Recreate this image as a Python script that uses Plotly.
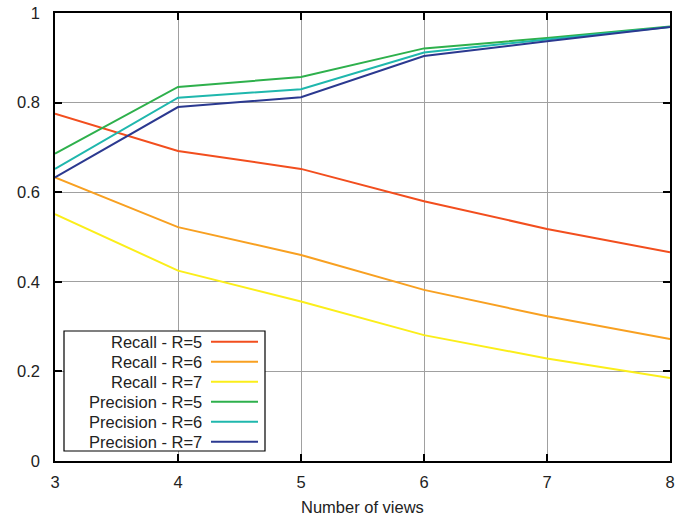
import plotly.graph_objects as go

views = [3, 4, 5, 6, 7, 8]
recall_r5 = [0.775, 0.692, 0.652, 0.580, 0.518, 0.466]
recall_r6 = [0.633, 0.522, 0.460, 0.382, 0.323, 0.272]
recall_r7 = [0.551, 0.425, 0.356, 0.281, 0.229, 0.185]
precision_r5 = [0.686, 0.835, 0.857, 0.921, 0.944, 0.970]
precision_r6 = [0.652, 0.811, 0.830, 0.912, 0.941, 0.969]
precision_r7 = [0.633, 0.790, 0.812, 0.904, 0.937, 0.969]

names = ["Recall - R=5", "Recall - R=6", "Recall - R=7",
         "Precision - R=5", "Precision - R=6", "Precision - R=7"]
series = [recall_r5, recall_r6, recall_r7, precision_r5, precision_r6, precision_r7]
colors = ["#f24e1e", "#f8a021", "#fbee1a", "#2eb04c", "#1fb7ad", "#2b3990"]

W, H = 686, 517
L, R, T, B = 55, 16, 13, 56
pw, ph = W - L - R, H - T - B

fig = go.Figure()
for n, s, c in zip(names, series, colors):
    fig.add_trace(go.Scatter(x=views, y=s, mode="lines", name=n,
                             line=dict(color=c, width=2), showlegend=False))

def px2x(px):
    return (px - L) / pw

def py2y(py):
    return (H - B - py) / ph

FONT = "Liberation Sans, Arial, sans-serif"
TXT = "#222222"

shapes = [dict(type="rect", xref="paper", yref="paper",
               x0=px2x(64), x1=px2x(265), y0=py2y(451), y1=py2y(331),
               line=dict(color="black", width=1.2), fillcolor="white", layer="above")]
annotations = []
for i, (n, c) in enumerate(zip(names, colors)):
    py = 341.7 + 20 * i
    shapes.append(dict(type="line", xref="paper", yref="paper",
                       x0=px2x(211), x1=px2x(258), y0=py2y(py), y1=py2y(py),
                       line=dict(color=c, width=2), layer="above"))
    annotations.append(dict(xref="paper", yref="paper", x=px2x(204), y=py2y(py),
                            text=n, showarrow=False, xanchor="right", yanchor="middle",
                            xshift=0, font=dict(family=FONT, size=16.5, color=TXT)))

annotations.append(dict(xref="paper", yref="paper", x=0.5, y=py2y(507),
                        text="Number of views", showarrow=False,
                        xanchor="center", yanchor="middle",
                        font=dict(family=FONT, size=16.5, color=TXT)))

axis_common = dict(showline=True, linecolor="black", linewidth=1.5, mirror="ticks",
                   ticks="inside", ticklen=7, tickcolor="black", tickwidth=1.5,
                   showgrid=True, gridcolor="#a0a0a0", gridwidth=1, zeroline=False,
                   automargin=False,
                   tickfont=dict(family=FONT, size=16.5, color=TXT))

fig.update_layout(
    width=W, height=H,
    margin=dict(l=L, r=R, t=T, b=B),
    paper_bgcolor="white", plot_bgcolor="white",
    font=dict(family=FONT, size=16, color=TXT),
    xaxis=dict(range=[3, 8], tickvals=views, ticktext=[str(v) for v in views],
               ticklabelstandoff=5, **axis_common),
    yaxis=dict(range=[0, 1], tickvals=[0, 0.2, 0.4, 0.6, 0.8, 1],
               ticktext=["0", "0.2", "0.4", "0.6", "0.8", "1"],
               ticklabelstandoff=10, **axis_common),
    shapes=shapes, annotations=annotations,
)

fig.write_html("out.html")
